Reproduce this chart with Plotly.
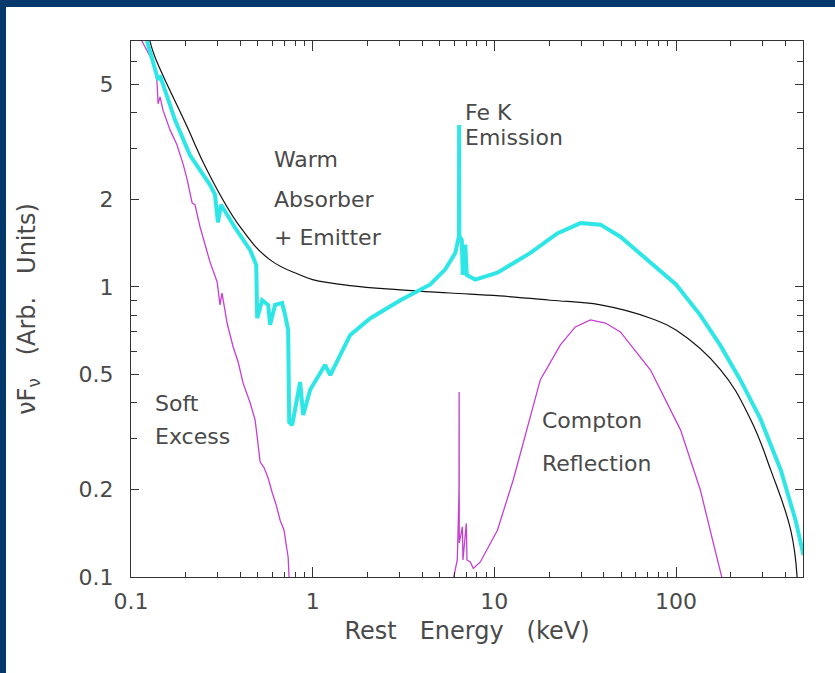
import plotly.graph_objects as go

# Continuum (black)
cont_E = [0.127, 0.1355, 0.204, 0.262, 0.399, 0.583, 0.853, 1.0, 1.61, 3.04, 5.69,
          10.7, 20.3, 38.4, 72.4, 100, 175, 257, 332, 428, 464]
cont_F = [7.05, 6.21, 3.56, 2.53, 1.61, 1.24, 1.10, 1.06, 1.01, 0.977, 0.953,
          0.931, 0.90, 0.867, 0.78, 0.71, 0.52, 0.35, 0.234, 0.145, 0.10]

# Total observed spectrum (cyan)
total_E = [0.1225, 0.1306, 0.139, 0.141, 0.1445, 0.1746, 0.211, 0.240, 0.272, 0.290,
           0.301, 0.313, 0.374, 0.453, 0.489, 0.495, 0.527, 0.569, 0.583, 0.621,
           0.679, 0.705, 0.733, 0.743, 0.771, 0.853, 0.887, 0.969, 1.10, 1.17,
           1.25, 1.42, 1.61, 2.08, 3.04, 4.44, 5.37, 6.10, 6.33, 6.39,
           6.40, 6.42, 6.62, 6.70, 6.92, 7.05, 7.85, 10.4, 15.8, 22.2,
           29.8, 38.4, 49.4, 72.4, 100, 136, 175, 226, 292, 377, 455, 503]
total_F = [7.05, 6.06, 5.38, 5.17, 5.35, 3.77, 2.85, 2.53, 2.25, 2.08,
           1.67, 1.92, 1.60, 1.34, 1.19, 0.78, 0.90, 0.867, 0.74, 0.867,
           0.881, 0.80, 0.71, 0.342, 0.334, 0.47, 0.362, 0.442, 0.509, 0.538,
           0.497, 0.583, 0.683, 0.78, 0.90, 1.02, 1.15, 1.31, 1.45, 1.50,
           3.62, 1.50, 1.45, 1.10, 1.40, 1.10, 1.06, 1.12, 1.31, 1.53,
           1.66, 1.64, 1.49, 1.22, 1.02, 0.80, 0.63, 0.478, 0.35, 0.234, 0.157, 0.119]

# Soft excess component (magenta)
soft_E = [0.110, 0.1306, 0.1355, 0.139, 0.141, 0.1445, 0.150, 0.164, 0.179, 0.194,
          0.204, 0.217, 0.225, 0.240, 0.272, 0.298, 0.309, 0.317, 0.338, 0.365,
          0.389, 0.414, 0.453, 0.482, 0.495, 0.514, 0.541, 0.569, 0.598, 0.630,
          0.662, 0.696, 0.715, 0.733, 0.743]
soft_F = [7.4, 6.06, 5.69, 5.09, 4.28, 4.52, 4.07, 3.48, 3.09, 2.64,
          2.34, 1.95, 1.92, 1.61, 1.22, 1.04, 0.867, 0.953, 0.751, 0.621,
          0.551, 0.466, 0.398, 0.348, 0.304, 0.249, 0.238, 0.219, 0.196, 0.177,
          0.157, 0.145, 0.129, 0.117, 0.097]

# Compton reflection component (magenta)
refl_E = [5.94, 6.25, 6.33, 6.39, 6.40, 6.41, 6.67, 6.72, 7.01, 7.07,
          7.38, 7.66, 8.37, 10.4, 12.7, 15.8, 17.9, 23.1, 27.9, 33.8,
          40.9, 49.4, 72.4, 106, 136, 159, 180]
refl_F = [0.098, 0.1145, 0.153, 0.20, 0.434, 0.131, 0.149, 0.1145, 0.153, 0.1145,
          0.1127, 0.107, 0.1127, 0.145, 0.216, 0.356, 0.478, 0.631, 0.728, 0.77,
          0.751, 0.70, 0.517, 0.321, 0.20, 0.134, 0.098]

x_ticks = [0.1, 1, 10, 100]
x_ticktext = ["0.1", "1", "10", "100"]
x_minor = [0.2, 0.3, 0.4, 0.5, 0.6, 0.7, 0.8, 0.9,
           2, 3, 4, 5, 6, 7, 8, 9,
           20, 30, 40, 50, 60, 70, 80, 90,
           200, 300, 400]
y_ticks = [0.1, 0.2, 0.5, 1, 2, 5]
y_ticktext = ["0.1", "0.2", "0.5", "1", "2", "5"]
y_minor = [0.3, 0.4, 0.6, 0.7, 0.8, 0.9, 3, 4, 6, 7]

labels = [
    ("Warm", -0.223, 0.438), ("Absorber", -0.223, 0.303), ("+ Emitter", -0.223, 0.172),
    ("Fe K", 0.829, 0.603), ("Emission", 0.829, 0.517),
    ("Soft", -0.879, -0.403), ("Excess", -0.879, -0.514),
    ("Compton", 1.253, -0.462), ("Reflection", 1.253, -0.607),
]

FONT = "DejaVu Sans"
TXT = "#4a4a4a"
AX = "#333333"
NAVY = "#05386b"
SP = "\u00a0\u00a0 "  # wide word gap for the axis titles

fig = go.Figure()
fig.add_trace(go.Scatter(x=cont_E, y=cont_F, mode="lines",
                         line=dict(color="#111111", width=1.2, shape="spline", smoothing=1.2)))
fig.add_trace(go.Scatter(x=soft_E, y=soft_F, mode="lines",
                         line=dict(color="#c63fd2", width=1.3)))
fig.add_trace(go.Scatter(x=refl_E, y=refl_F, mode="lines",
                         line=dict(color="#c63fd2", width=1.3)))
fig.add_trace(go.Scatter(x=total_E, y=total_F, mode="lines",
                         line=dict(color="#2ee6e6", width=4)))

for text, lx, ly in labels:
    fig.add_annotation(x=lx, y=ly, xref="x", yref="y", text=text, showarrow=False,
                       xanchor="left", yanchor="middle",
                       font=dict(family=FONT, size=22, color=TXT))

axis_common = dict(
    showgrid=False, zeroline=False, showline=True, linecolor=AX, linewidth=1,
    mirror="allticks", ticks="inside", tickcolor=AX, tickwidth=1,
    tickfont=dict(family=FONT, size=22, color=TXT),
)

fig.update_xaxes(type="log", range=[-1, 2.699], tickmode="array",
                 tickvals=x_ticks, ticktext=x_ticktext, ticklen=10,
                 minor=dict(tickmode="array", tickvals=x_minor, ticklen=5,
                            ticks="inside", tickcolor=AX, showgrid=False),
                 ticklabelstandoff=5,
                 title=dict(text="Rest" + SP + "Energy" + SP + "(keV)", standoff=8,
                            font=dict(family=FONT, size=24, color=TXT)),
                 **axis_common)
fig.update_yaxes(type="log", range=[-1, 0.848], tickmode="array",
                 tickvals=y_ticks, ticktext=y_ticktext, ticklen=8,
                 minor=dict(tickmode="array", tickvals=y_minor, ticklen=6,
                            ticks="inside", tickcolor=AX, showgrid=False),
                 ticklabelstandoff=12,
                 title=dict(text="\u03bdF<sub>\u03bd</sub>" + SP + "(Arb." + SP + "Units)",
                            standoff=36, font=dict(family=FONT, size=24, color=TXT)),
                 **axis_common)

# navy frame strips along the top and left edges of the page
fig.add_shape(type="rect", xref="paper", yref="paper", x0=-0.3, x1=1.2,
              y0=1.0634, y1=1.2, fillcolor=NAVY, line_width=0, layer="below")
fig.add_shape(type="rect", xref="paper", yref="paper", x0=-0.3, x1=-0.186,
              y0=-0.3, y1=1.2, fillcolor=NAVY, line_width=0, layer="below")

fig.update_layout(
    width=835, height=673,
    margin=dict(l=131, r=32, t=41, b=96),
    paper_bgcolor="white", plot_bgcolor="white",
    showlegend=False,
)

fig.write_html("out.html")
